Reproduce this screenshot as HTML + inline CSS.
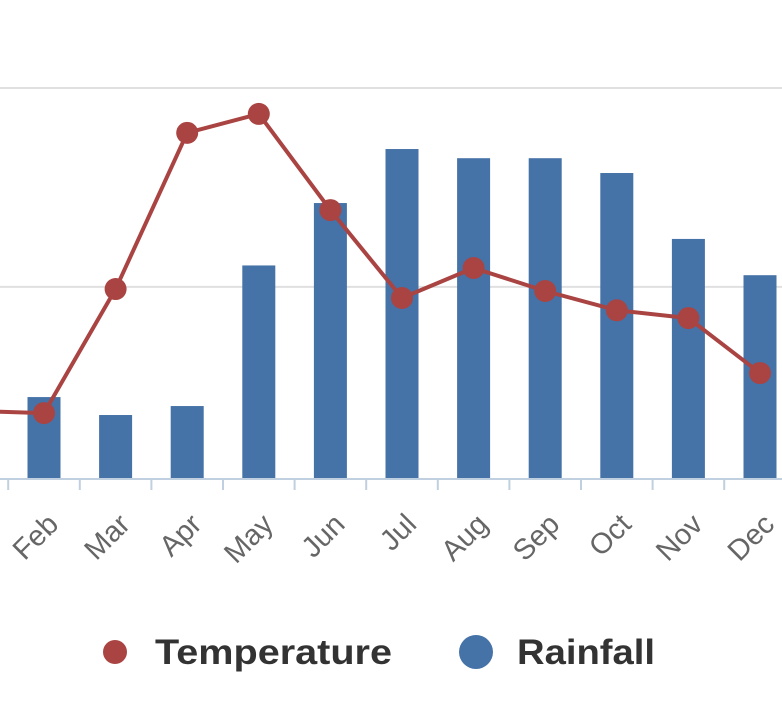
<!DOCTYPE html>
<html><head><meta charset="utf-8"><style>
html,body{margin:0;padding:0;background:#fff;}
svg{display:block;font-family:"Liberation Sans",sans-serif;}
</style></head><body>
<svg id="chart" width="782" height="712">
<g id="grid"></g>
<g id="bars"></g>
<g id="axis"></g>
<g id="line"></g>
<g>
<g>
<circle cx="115" cy="652" r="12" fill="#a94442"/>
<text x="155" y="664" font-size="35" font-weight="bold" fill="#333" textLength="237" lengthAdjust="spacingAndGlyphs">Temperature</text></g>
<g>
<circle cx="476" cy="652" r="17" fill="#4572a7"/>
<text x="517" y="664" font-size="35" font-weight="bold" fill="#333" textLength="138" lengthAdjust="spacingAndGlyphs">Rainfall</text></g>
</g>
</svg>
<script>
const categories=["Jan","Feb","Mar","Apr","May","Jun","Jul","Aug","Sep","Oct","Nov","Dec"];
const rainfall=[null,41.5,32.3,36.9,109,141,168.7,164,164,156.4,122.6,104];
const temperature=[34.4,33.3,96.9,177,186.7,137.4,92.3,107.7,95.9,86,82,53.8];
const gridValues=[98,200];
const NS="http://www.w3.org/2000/svg";
const base=478, k=1.95, step=71.6, x0=44-step;
const xs=i=>x0+i*step;
const ys=v=>base-v*k;
function mk(t,a,p){const e=document.createElementNS(NS,t);for(const n in a)e.setAttribute(n,a[n]);p.appendChild(e);return e;}
const grid=document.getElementById('grid');
gridValues.forEach(v=>{const l=mk('line',{x1:0,x2:782,y1:ys(v),y2:ys(v),stroke:'#e0e0e0','stroke-width':2},grid);

});
const bars=document.getElementById('bars');
rainfall.forEach((v,i)=>{if(v==null)return;const r=mk('rect',{x:xs(i)-16.5,y:ys(v),width:33,height:base-ys(v),fill:'#4572a7'},bars);

});
const ax=document.getElementById('axis');
mk('line',{x1:0,x2:782,y1:base+1,y2:base+1,stroke:'#c0d0e0','stroke-width':2},ax);
categories.forEach((c,i)=>{const tx=xs(i)-step/2;
mk('line',{x1:tx,x2:tx,y1:base,y2:base+12,stroke:'#c0d0e0','stroke-width':2},ax);
const lx=xs(i)+16, ly=base+48;
const t=mk('text',{x:lx,y:ly,'font-size':29,fill:'#666','text-anchor':'end',transform:`rotate(-45 ${lx} ${ly})`},ax);
t.textContent=c;

});
const lg=document.getElementById('line');
const pts=temperature.map((v,i)=>xs(i)+','+ys(v)).join(' ');
mk('polyline',{points:pts,fill:'none',stroke:'#a94442','stroke-width':4,'stroke-linejoin':'round'},lg);
temperature.forEach((v,i)=>{const c=mk('circle',{cx:xs(i),cy:ys(v),r:11,fill:'#a94442'},lg);

});
</script>
</body></html>
